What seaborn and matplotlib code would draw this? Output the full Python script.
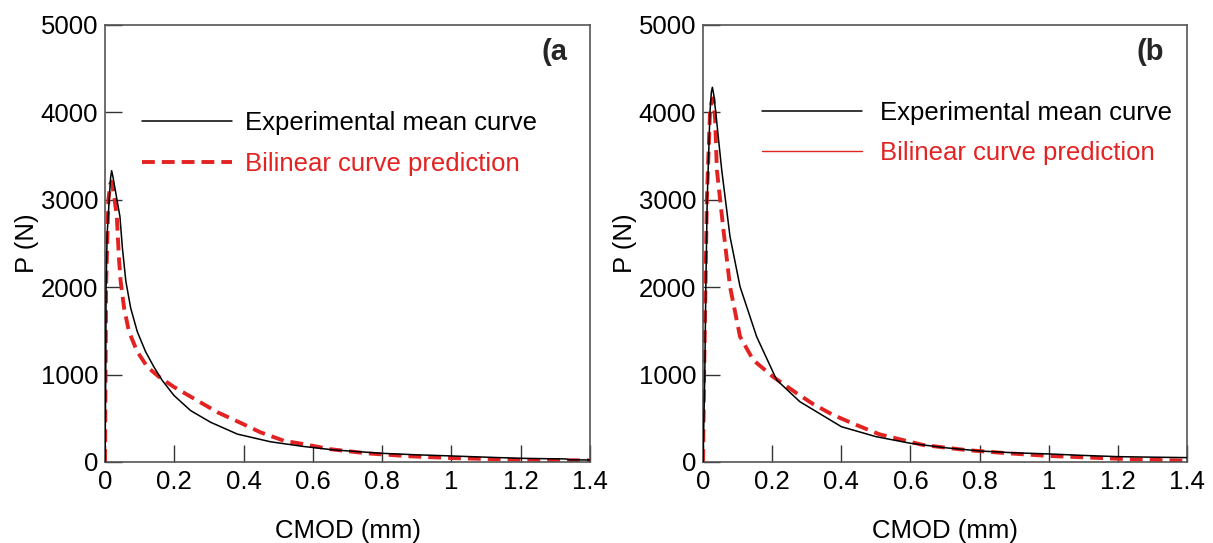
import matplotlib
matplotlib.use("Agg")
import matplotlib.pyplot as plt
import seaborn as sns
import pandas as pd
from matplotlib.lines import Line2D

# panel (a) - experimental mean curve
cmod_a_exp = [0, 0.002, 0.003, 0.006, 0.012, 0.016, 0.019, 0.023, 0.030, 0.043, 0.050, 0.060,
              0.074, 0.093, 0.117, 0.141, 0.165, 0.199, 0.247, 0.305, 0.382, 0.478, 0.574,
              0.661, 0.80, 0.90, 1.0, 1.1, 1.2, 1.3, 1.33, 1.34, 1.4]
p_a_exp = [0, 1000, 2000, 2600, 3000, 3250, 3333, 3260, 3100, 2807, 2453, 2069,
           1761, 1492, 1262, 1088, 934, 761, 588, 454, 319, 231, 177,
           138, 99, 82, 69, 55, 42, 36, 35, 25, 23]

# panel (a) - bilinear prediction
cmod_a_bl = [0, 0.003, 0.0096, 0.015, 0.019, 0.026, 0.034, 0.040, 0.045, 0.055, 0.069, 0.093,
             0.122, 0.156, 0.199, 0.266, 0.324, 0.392, 0.449, 0.517, 0.574, 0.651, 0.756,
             0.88, 1.0, 1.2, 1.4]
p_a_bl = [0, 2000, 3000, 3180, 3207, 3050, 2807, 2338, 2069, 1761, 1492, 1262,
          1088, 973, 858, 704, 570, 446, 339, 242, 204, 146, 99,
          65, 45, 25, 18]

# panel (b) - experimental mean curve
cmod_b_exp = [0, 0.005, 0.008, 0.012, 0.020, 0.024, 0.027, 0.031, 0.037, 0.044, 0.054, 0.078,
              0.107, 0.155, 0.213, 0.28, 0.40, 0.50, 0.60, 0.70, 0.80, 0.90, 1.0, 1.1,
              1.2, 1.3, 1.4]
p_b_exp = [0, 1000, 2000, 3000, 4000, 4230, 4287, 4200, 3990, 3720, 3341, 2578,
           2006, 1434, 938, 690, 404, 290, 214, 163, 126, 105, 92, 75,
           61, 55, 50]

# panel (b) - bilinear prediction
cmod_b_bl = [0, 0.003, 0.011, 0.020, 0.026, 0.030, 0.035, 0.040, 0.059, 0.078, 0.107, 0.145,
             0.202, 0.271, 0.318, 0.376, 0.444, 0.51, 0.636, 0.76, 0.88, 1.0, 1.24, 1.4]
p_b_bl = [0, 1000, 3000, 4000, 4150, 4161, 3913, 3341, 2654, 2006, 1434, 1167,
          976, 786, 664, 538, 423, 317, 195, 137, 100, 69, 31, 15]

x_ticks = [0, 0.2, 0.4, 0.6, 0.8, 1.0, 1.2, 1.4]
x_labels = ["0", "0.2", "0.4", "0.6", "0.8", "1", "1.2", "1.4"]
y_ticks = [0, 1000, 2000, 3000, 4000, 5000]

RED = "#e32222"
DASH = (0, (3.3, 1.8))

sns.set_style("ticks")
plt.rcParams["font.family"] = ["Liberation Sans", "DejaVu Sans"]
plt.rcParams["font.size"] = 18.5

fig = plt.figure(figsize=(12.13, 5.43), dpi=100)
ax_a = fig.add_axes([0.0866, 0.1492, 0.3998, 0.8048])
ax_b = fig.add_axes([0.5796, 0.1492, 0.3990, 0.8048])

panels = [
    (ax_a, cmod_a_exp, p_a_exp, cmod_a_bl, p_a_bl, "(a"),
    (ax_b, cmod_b_exp, p_b_exp, cmod_b_bl, p_b_bl, "(b"),
]

for ax, xe, ye, xb, yb, tag in panels:
    exp_df = pd.DataFrame({"CMOD": xe, "P": ye})
    bl_df = pd.DataFrame({"CMOD": xb, "P": yb})
    sns.lineplot(data=exp_df, x="CMOD", y="P", ax=ax, color="black", lw=1.1,
                 estimator=None, sort=False, zorder=3)
    sns.lineplot(data=bl_df, x="CMOD", y="P", ax=ax, color=RED, lw=2.8,
                 linestyle=DASH, estimator=None, sort=False, zorder=2,
                 solid_joinstyle="round", dash_joinstyle="round")

    ax.set_xlim(0, 1.4)
    ax.set_ylim(0, 5000)
    ax.set_xticks(x_ticks)
    ax.set_xticklabels(x_labels)
    ax.set_yticks(y_ticks)
    ax.tick_params(direction="in", length=12, width=1, colors="#333333",
                   labelcolor="black", labelsize=18.5)
    ax.tick_params(axis="y", pad=5)
    ax.tick_params(axis="x", pad=6)
    for s in ax.spines.values():
        s.set_visible(True)
        s.set_color("#555555")
        s.set_linewidth(1.2)
    ax.set_xlabel("CMOD (mm)", fontsize=18.5, labelpad=18, color="black")
    ax.set_ylabel("P (N)", fontsize=18.5, labelpad=1, color="black")
    ax.text(0.953, 0.938, tag, transform=ax.transAxes, ha="right", va="center",
            fontsize=21, fontweight="bold")

# legends: (a) shows dashed red handle, (b) shows a thin solid red handle
h_a = [Line2D([], [], color="black", lw=1.1),
       Line2D([], [], color=RED, lw=2.8, linestyle=DASH)]
h_b = [Line2D([], [], color="black", lw=1.1),
       Line2D([], [], color=RED, lw=1.0)]
labels = ["Experimental mean curve", "Bilinear curve prediction"]

ax_a.legend(h_a, labels, loc="upper left", bbox_to_anchor=(0.076, 0.804),
            frameon=False, handlelength=3.5, handletextpad=0.5,
            labelspacing=0.68, borderpad=0, borderaxespad=0, fontsize=18.5,
            labelcolor=["black", RED])
ax_b.legend(h_b, labels, loc="upper left", bbox_to_anchor=(0.122, 0.825),
            frameon=False, handlelength=3.9, handletextpad=0.7,
            labelspacing=0.6, borderpad=0, borderaxespad=0, fontsize=18.5,
            labelcolor=["black", RED])

fig.savefig("out.png", dpi=100)
